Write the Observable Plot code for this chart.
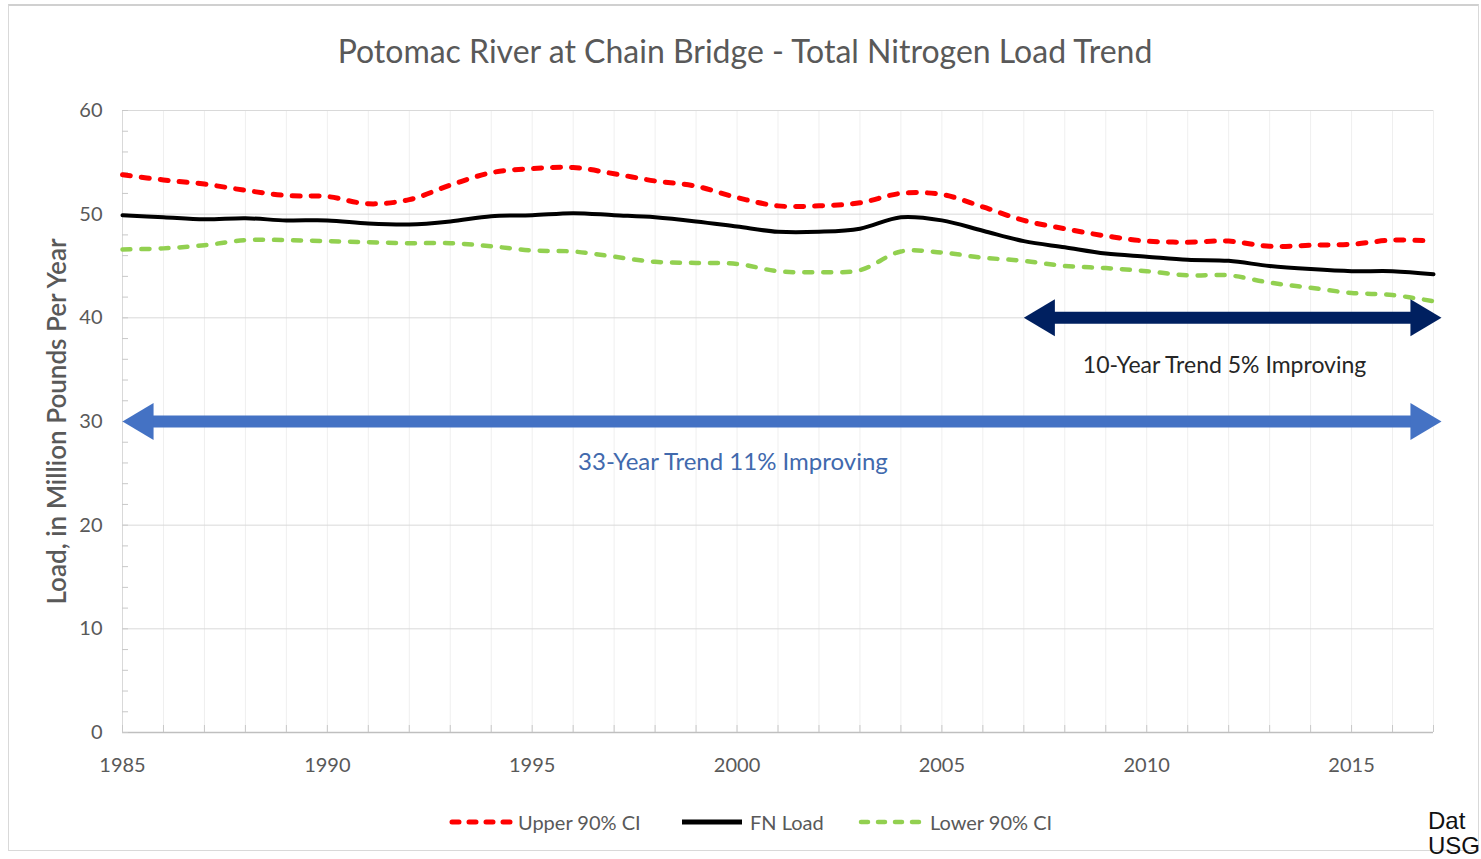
<!DOCTYPE html>
<html>
<head>
<meta charset="utf-8">
<script src="https://cdn.jsdelivr.net/npm/d3@7"></script>
<script src="https://cdn.jsdelivr.net/npm/@observablehq/plot@0.6"></script>
<style>
  html, body { margin: 0; padding: 0; width: 1481px; height: 859px; overflow: hidden; background: #fff; font-family: Lato, "Open Sans", sans-serif; }
  #frame { position: absolute; left: 8px; top: 4px; width: 1471px; height: 847px; border: 1px solid #d9d9d9; border-top: 2px solid #d0d0d0; box-sizing: border-box; }
  #title { position: absolute; left: 0; top: 32px; width: 1490px; text-align: center; font-size: 32px; line-height: 38px; color: #595959; white-space: nowrap; }
  #chart { position: absolute; left: 0; top: 90px; }
  .leg { position: absolute; top: 811px; height: 22px; font-size: 20px; line-height: 22px; color: #595959; white-space: nowrap; }
  .sw { position: absolute; top: 816px; }
  #src { position: absolute; left: 1428px; top: 808px; font-family: "Liberation Sans", Arial, sans-serif; font-size: 24px; line-height: 25px; color: #111; white-space: nowrap; }
</style>
</head>
<body>
<div id="frame"></div>
<div id="title"></div>
<div id="chart"></div>
<div id="legend"></div>
<div id="src">Dat<br>USG</div>
<script>
// ---- Data ----
const chartTitle = "Potomac River at Chain Bridge - Total Nitrogen Load Trend";
const yAxisLabel = "Load, in Million Pounds Per Year";
const years = [1985,1986,1987,1988,1989,1990,1991,1992,1993,1994,1995,1996,1997,1998,1999,2000,2001,2002,2003,2004,2005,2006,2007,2008,2009,2010,2011,2012,2013,2014,2015,2016,2017];
const labeledYears = [1985,1990,1995,2000,2005,2010,2015];
const yTicks = [0,10,20,30,40,50,60];
const yMinorTicks = [0,2,4,6,8,10,12,14,16,18,20,22,24,26,28,30,32,34,36,38,40,42,44,46,48,50,52,54,56,58,60];
const upper90 = [53.8,53.3,52.9,52.3,51.8,51.7,51.0,51.4,52.8,54.0,54.4, 54.5,53.9,53.2,52.7,51.6,50.8,50.8,51.1,52.0,51.9,50.7, 49.4,48.6,47.9,47.4,47.3,47.4,46.9,47.0,47.1,47.5,47.4];
const fnLoad  = [49.9,49.7,49.5,49.6,49.4,49.4,49.1,49.0,49.3,49.8,49.9, 50.1,49.9,49.7,49.3,48.8,48.3,48.3,48.6,49.7,49.4,48.4, 47.4,46.8,46.2,45.9,45.6,45.5,45.0,44.7,44.5,44.5,44.2];
const lower90 = [46.6,46.7,47.0,47.5,47.5,47.4,47.3,47.2,47.2,46.9,46.5, 46.4,45.9,45.4,45.3,45.2,44.5,44.4,44.6,46.4,46.3,45.8, 45.5,45.0,44.8,44.5,44.1,44.1,43.4,42.9,42.4,42.2,41.6];
const seriesNames = ["Upper 90% CI", "FN Load", "Lower 90% CI"];
const seriesColors = ["#ff0000", "#000000", "#92d050"];
const trendLabels = ["33-Year Trend 11% Improving", "10-Year Trend 5% Improving"];
const trendStart = [1985, 2007];
const trendEnd = [2017, 2017];
const trendLevel = [30, 40];
const trendColors = ["#4472c4", "#002060"];
const labelYear = [1999.9, 2011.9];
const labelLevel = [26.1, 35.4];
const labelColors = ["#4169ad", "#262626"];
const labelSizes = [24, 23];

// ---- Build tables ----
const toRows = vals => years.map((year, i) => ({year, value: vals[i]}));
const arrows = trendLabels.map((label, i) => ({
  label, start: trendStart[i], end: trendEnd[i], level: trendLevel[i],
  color: trendColors[i], lx: labelYear[i], ly: labelLevel[i], lcolor: labelColors[i], lsize: labelSizes[i]
}));

const leftHead = { draw(ctx, size) { const r = Math.sqrt(size / Math.PI);
  ctx.moveTo(0, 0); ctx.lineTo(2.3 * r, -1.37 * r); ctx.lineTo(2.3 * r, 1.37 * r); ctx.closePath(); } };
const rightHead = { draw(ctx, size) { const r = Math.sqrt(size / Math.PI);
  ctx.moveTo(0, 0); ctx.lineTo(-2.3 * r, -1.37 * r); ctx.lineTo(-2.3 * r, 1.37 * r); ctx.closePath(); } };

document.getElementById("title").textContent = chartTitle;

const chart = Plot.plot({
  width: 1481, height: 700,
  marginLeft: 122, marginRight: 48, marginTop: 20, marginBottom: 58,
  x: {domain: [1985, 2017]},
  y: {domain: [0, 60]},
  color: {type: "identity"},
  style: {fontFamily: "Lato, sans-serif", background: "transparent", overflow: "visible"},
  marks: [
    Plot.gridX(years, {stroke: "#efefef", strokeOpacity: 1}),
    Plot.gridY(yTicks.filter(d => d > 0), {stroke: "#d9d9d9", strokeOpacity: 1}),
    Plot.ruleX([1985], {stroke: "#d9d9d9"}),
    Plot.ruleY([0], {stroke: "#bfbfbf", strokeWidth: 1.3}),
    Plot.axisX({ticks: years, tickSize: 7, dy: -7, tickFormat: () => "", stroke: "#c8c8c8", label: null}),
    Plot.axisX({ticks: labeledYears, tickSize: 0, tickPadding: 25, tickFormat: d => String(d), fontSize: 20, fill: "#595959", label: null}),
    Plot.axisY({ticks: yMinorTicks, tickSize: 6, dx: 6, tickFormat: () => "", stroke: "#c8c8c8", label: null}),
    Plot.axisY({ticks: yTicks, tickSize: 0, tickPadding: 20, tickFormat: d => String(d), fontSize: 20, fill: "#595959", label: null}),
    Plot.text([yAxisLabel], {text: d => d, frameAnchor: "left", textAnchor: "middle", rotate: -90, dx: -65, fontSize: 26, fontWeight: 600, fill: "#595959"}),
    Plot.line(toRows(upper90), {x: "year", y: "value", curve: "catmull-rom", stroke: seriesColors[0], strokeWidth: 5, strokeDasharray: "8,11", strokeLinecap: "round"}),
    Plot.line(toRows(lower90), {x: "year", y: "value", curve: "catmull-rom", stroke: seriesColors[2], strokeWidth: 4.5, strokeDasharray: "8,11", strokeLinecap: "round"}),
    Plot.line(toRows(fnLoad), {x: "year", y: "value", curve: "catmull-rom", stroke: seriesColors[1], strokeWidth: 4}),
    Plot.ruleY(arrows, {y: "level", x1: "start", x2: "end", stroke: "color", strokeWidth: 12, insetLeft: 14, insetRight: 4}),
    Plot.dot(arrows, {x: "start", y: "level", symbol: leftHead, r: 13.5, fill: "color", stroke: null}),
    Plot.dot(arrows, {x: "end", y: "level", symbol: rightHead, r: 13.5, fill: "color", stroke: null, dx: 8}),
    Plot.text(arrows.filter((d, i) => i === 0), {x: "lx", y: "ly", text: "label", fill: "lcolor", fontSize: labelSizes[0]}),
    Plot.text(arrows.filter((d, i) => i === 1), {x: "lx", y: "ly", text: "label", fill: "lcolor", fontSize: labelSizes[1]})
  ]
});
document.getElementById("chart").appendChild(chart);

// ---- Legend ----
const legend = document.getElementById("legend");
const legendItems = [
  {name: seriesNames[0], color: seriesColors[0], dash: "7,10", w: 5, sx: 449, tx: 518},
  {name: seriesNames[1], color: seriesColors[1], dash: null, w: 5, sx: 679, tx: 750},
  {name: seriesNames[2], color: seriesColors[2], dash: "7,10", w: 4.5, sx: 858, tx: 930}
];
for (const it of legendItems) {
  const svg = d3.create("svg").attr("class", "sw").attr("width", 66).attr("height", 12)
    .style("left", it.sx + "px");
  svg.append("line").attr("x1", 3).attr("x2", 63).attr("y1", 6).attr("y2", 6)
    .attr("stroke", it.color).attr("stroke-width", it.w)
    .attr("stroke-dasharray", it.dash).attr("stroke-linecap", it.dash ? "round" : "butt");
  legend.appendChild(svg.node());
  const t = document.createElement("div");
  t.className = "leg"; t.style.left = it.tx + "px"; t.textContent = it.name;
  legend.appendChild(t);
}
</script>
</body>
</html>
